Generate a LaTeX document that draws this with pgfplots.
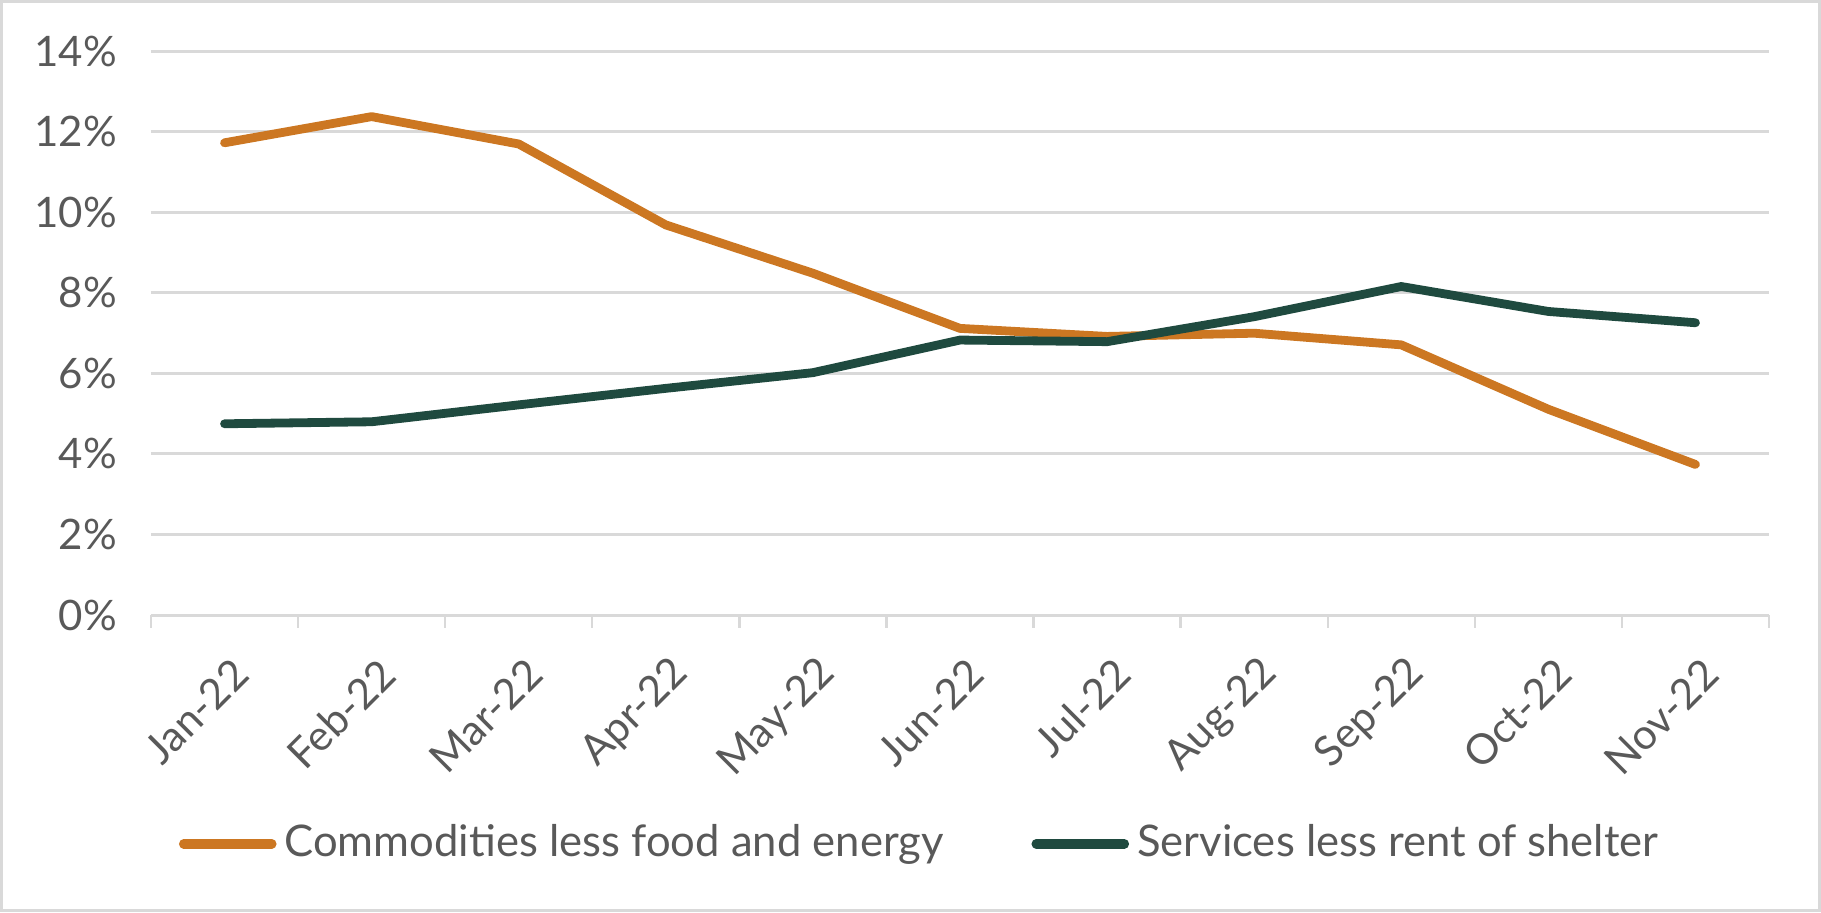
\documentclass[border=0pt]{standalone}
\usepackage{pgfplots}
\pgfplotsset{compat=1.18}
\usepackage{fontspec}
\setmainfont{Lato}
\definecolor{corange}{HTML}{CC7722}
\definecolor{cgreen}{HTML}{1F4A3F}
\definecolor{cgrid}{HTML}{D9D9D9}
\definecolor{ctext}{HTML}{595959}
\begin{document}
\begin{tikzpicture}
\useasboundingbox (0,0) rectangle (455.25pt,228pt);
\draw[cgrid, line width=0.75pt] (0.375pt,0.375pt) rectangle (454.875pt,227.625pt);
\begin{axis}[
  at={(37.75pt,74.25pt)}, anchor=south west,
  scale only axis, width=404.5pt, height=140.9pt,
  xmin=-0.5, xmax=10.5, ymin=0, ymax=14,
  xtick={0,...,10},
  xticklabels={Jan-22,Feb-22,Mar-22,Apr-22,May-22,Jun-22,Jul-22,Aug-22,Sep-22,Oct-22,Nov-22},
  minor xtick={-0.5,0.5,...,10.5},
  major tick length=0pt, minor tick length=3.2pt,
  tick align=outside,
  x tick style={cgrid, line width=0.6pt},
  ytick={0,2,...,14},
  yticklabel={\pgfmathprintnumber{\tick}\%},
  ytick style={draw=none},
  ymajorgrids, grid style={cgrid, line width=0.75pt},
  axis x line*=bottom, axis y line*=left,
  x axis line style={cgrid, line width=0.75pt, -},
  y axis line style={draw=none},
  /pgf/number format/assume math mode=true,
  tick label style={font=\fontsize{10.5}{12}\selectfont, text=ctext},
  yticklabel style={xshift=-5pt},
  xticklabel style={xshift=6.5pt, yshift=-10.5pt, rotate=45, anchor=east},
  legend style={at={(0.477,-0.406)}, anchor=center, draw=none, fill=none,
    legend columns=2, font=\fontsize{10.9}{12}\selectfont, text=ctext,
    /tikz/every even column/.append style={column sep=20pt}},
  legend image code/.code={\draw[#1, line width=2.4pt, line cap=round] (0pt,0pt) -- (22pt,0pt);},
  legend cell align=left,
]
\addplot[corange, line width=2.2pt, line cap=round, line join=round] coordinates {
(0,11.73) (1,12.38) (2,11.70) (3,9.69) (4,8.49) (5,7.12) (6,6.92) (7,7.00) (8,6.71) (9,5.11) (10,3.74)};
\addlegendentry{Commodities less food and energy}
\addplot[cgreen, line width=2.2pt, line cap=round, line join=round] coordinates {
(0,4.75) (1,4.80) (2,5.22) (3,5.63) (4,6.02) (5,6.83) (6,6.79) (7,7.41) (8,8.16) (9,7.54) (10,7.26)};
\addlegendentry{Services less rent of shelter}
\end{axis}
\end{tikzpicture}
\end{document}
